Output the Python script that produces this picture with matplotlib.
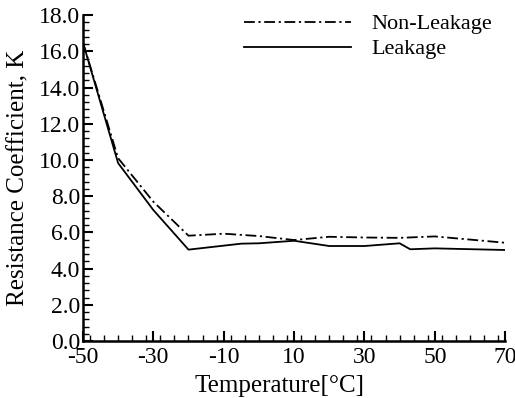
import matplotlib
matplotlib.use('Agg')
import matplotlib.pyplot as plt
from matplotlib.ticker import FixedLocator, MultipleLocator, FormatStrFormatter

plt.rcParams['font.family'] = ['Liberation Serif', 'DejaVu Serif']
plt.rcParams['axes.unicode_minus'] = False

# data
temp_non_leak = [-50, -40, -30, -20, -10, 0, 10, 20, 30, 40, 50, 70]
k_non_leak = [16.5, 10.1, 7.7, 5.82, 5.93, 5.8, 5.58, 5.76, 5.72, 5.7, 5.78, 5.43]

temp_leak = [-50, -40, -30, -20, -5, 0, 10, 20, 30, 40, 43, 50, 70]
k_leak = [16.5, 9.83, 7.24, 5.05, 5.38, 5.4, 5.54, 5.25, 5.25, 5.4, 5.07, 5.12, 5.03]

x_ticks = [-50, -30, -10, 10, 30, 50, 70]

fig = plt.figure(figsize=(5.15, 3.98), dpi=100)
ax = fig.add_axes([0.161, 0.143, 0.82, 0.819])

ax.plot(temp_non_leak, k_non_leak, color='black', lw=1.3, ls=(0, (6, 2, 1.2, 2)),
        label='Non-Leakage')
ax.plot(temp_leak, k_leak, color='black', lw=1.3, ls='-', label='Leakage')

ax.set_xlim(-50, 70)
ax.set_ylim(0, 18)
ax.xaxis.set_major_locator(FixedLocator(x_ticks))
ax.xaxis.set_minor_locator(MultipleLocator(4))
ax.yaxis.set_major_locator(MultipleLocator(2))
ax.yaxis.set_minor_locator(MultipleLocator(0.4))
ax.yaxis.set_major_formatter(FormatStrFormatter('%.1f'))

for side in ['top', 'right']:
    ax.spines[side].set_visible(False)
for side in ['left', 'bottom']:
    ax.spines[side].set_linewidth(1.8)

ax.tick_params(which='major', direction='in', length=7, width=1.5, labelsize=17)
ax.tick_params(axis='x', which='major', pad=4)
ax.tick_params(axis='y', which='major', pad=2)
ax.tick_params(which='minor', direction='in', length=4, width=1.0)

ax.set_xlabel('Temperature[°C]', fontsize=18, labelpad=4)
ax.xaxis.set_label_coords(0.465, -0.105)
ax.set_ylabel('Resistance Coefficient, K', fontsize=18, labelpad=7)

ax.legend(loc='upper right', bbox_to_anchor=(1.0, 1.045), frameon=False, fontsize=16,
          handlelength=4.8, handletextpad=0.9, labelspacing=0.2, borderaxespad=0.2)

fig.savefig('out.png', dpi=100)
